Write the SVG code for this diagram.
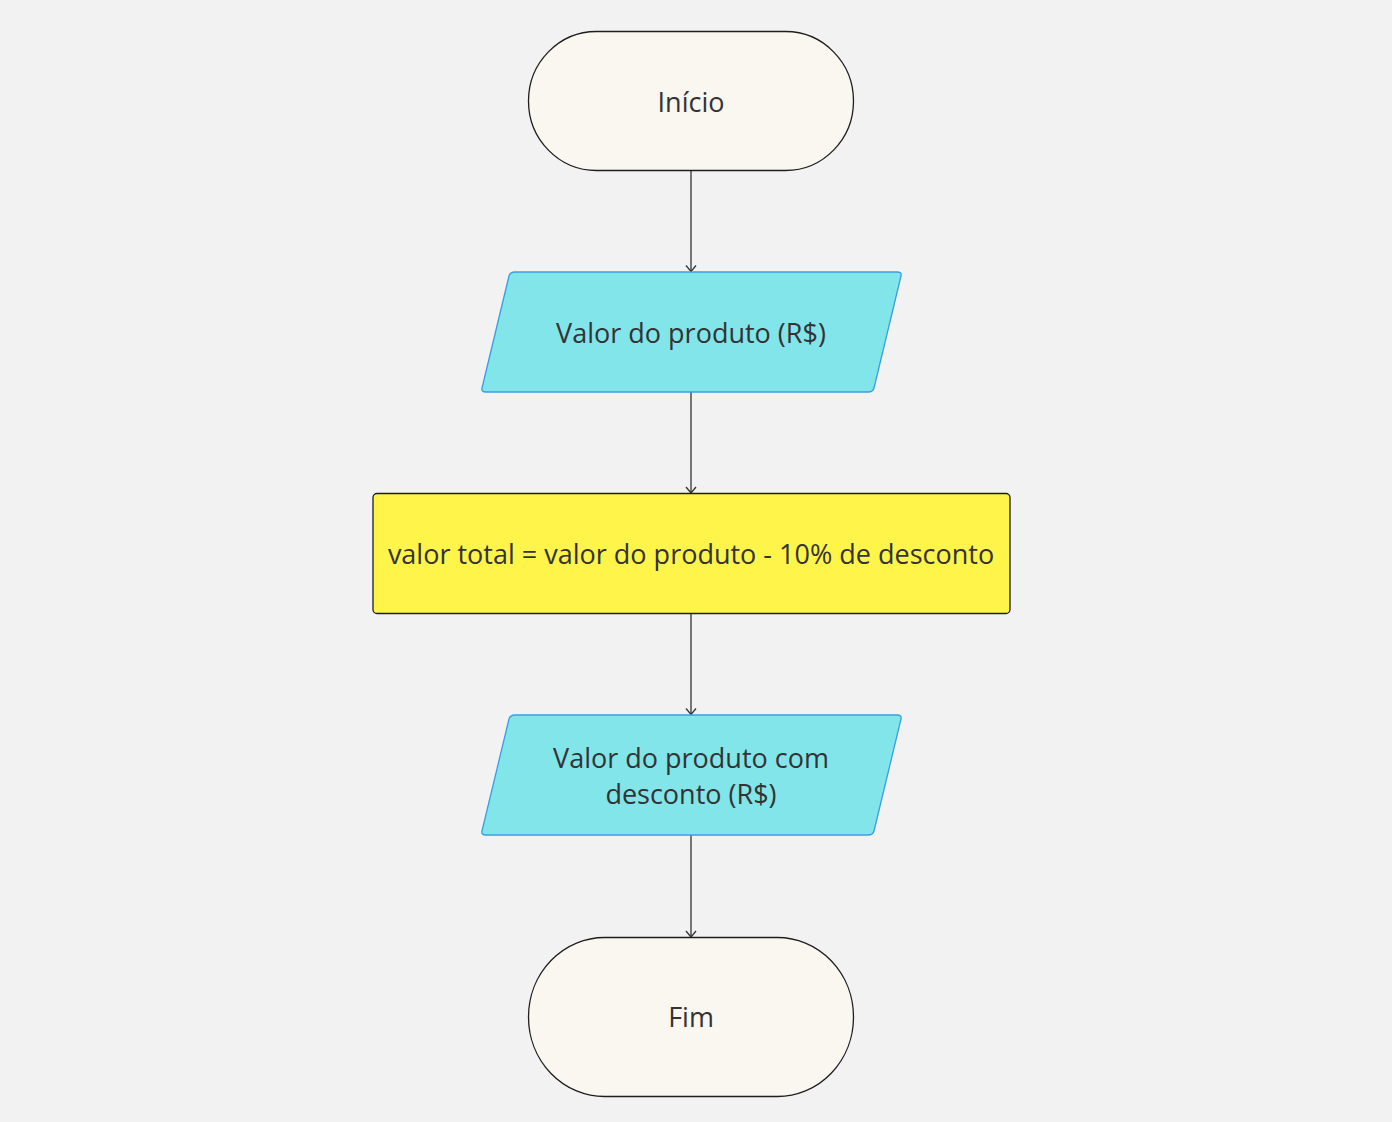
<svg xmlns="http://www.w3.org/2000/svg" width="1392" height="1122" viewBox="0 0 1392 1122">
<defs>
<marker id="arr" viewBox="0 0 12 12" refX="11" refY="6" markerWidth="12" markerHeight="12" markerUnits="userSpaceOnUse" orient="auto">
<path d="M5,1 L11,6 L5,11" fill="none" stroke="#333" stroke-width="1.3"/>
</marker>
<style>
.t{font-family:"Open Sans","Noto Sans",sans-serif;font-size:27px;fill:#333;text-anchor:middle;dominant-baseline:central}
.term{fill:#faf6f0;stroke:#1e1e1e;stroke-width:1.3}
.io{fill:#81e5ea;stroke:#3a9ee2;stroke-width:1.3}
.proc{fill:#fff54a;stroke:#1e1e1e;stroke-width:1.3}
.c{stroke:#333;stroke-width:1.3;fill:none}
</style>
</defs>
<rect width="1392" height="1122" fill="#f2f2f2"/>
<g id="connectors">
<line class="c" x1="691" y1="171" x2="691" y2="271.5" marker-end="url(#arr)"/>
<line class="c" x1="691" y1="392" x2="691" y2="493" marker-end="url(#arr)"/>
<line class="c" x1="691" y1="614" x2="691" y2="714.5" marker-end="url(#arr)"/>
<line class="c" x1="691" y1="835" x2="691" y2="937" marker-end="url(#arr)"/>
</g>
<g id="inicio">
<rect class="term" x="528.5" y="31.5" width="325" height="139" rx="68" ry="69.5"/>
<text class="t" x="691" y="101">Início</text>
</g>
<g id="entrada">
<path class="io" d="M515,272 L897,272 Q902,272 901,276 L874,388 Q873,392 868,392 L486,392 Q481,392 482,388 L509,276 Q510,272 515,272 Z"/>
<text class="t" x="691" y="332">Valor do produto (R$)</text>
</g>
<g id="processo">
<rect class="proc" x="373" y="493.5" width="637" height="120" rx="4"/>
<text class="t" x="691" y="553">valor total = valor do produto - 10% de desconto</text>
</g>
<g id="saida">
<path class="io" d="M515,715 L897,715 Q902,715 901,719 L874,831 Q873,835 868,835 L486,835 Q481,835 482,831 L509,719 Q510,715 515,715 Z"/>
<text class="t" x="691" y="757">Valor do produto com</text>
<text class="t" x="691" y="793">desconto (R$)</text>
</g>
<g id="fim">
<rect class="term" x="528.5" y="937.5" width="325" height="159" rx="76" ry="79.5"/>
<text class="t" x="691" y="1016">Fim</text>
</g>
</svg>
